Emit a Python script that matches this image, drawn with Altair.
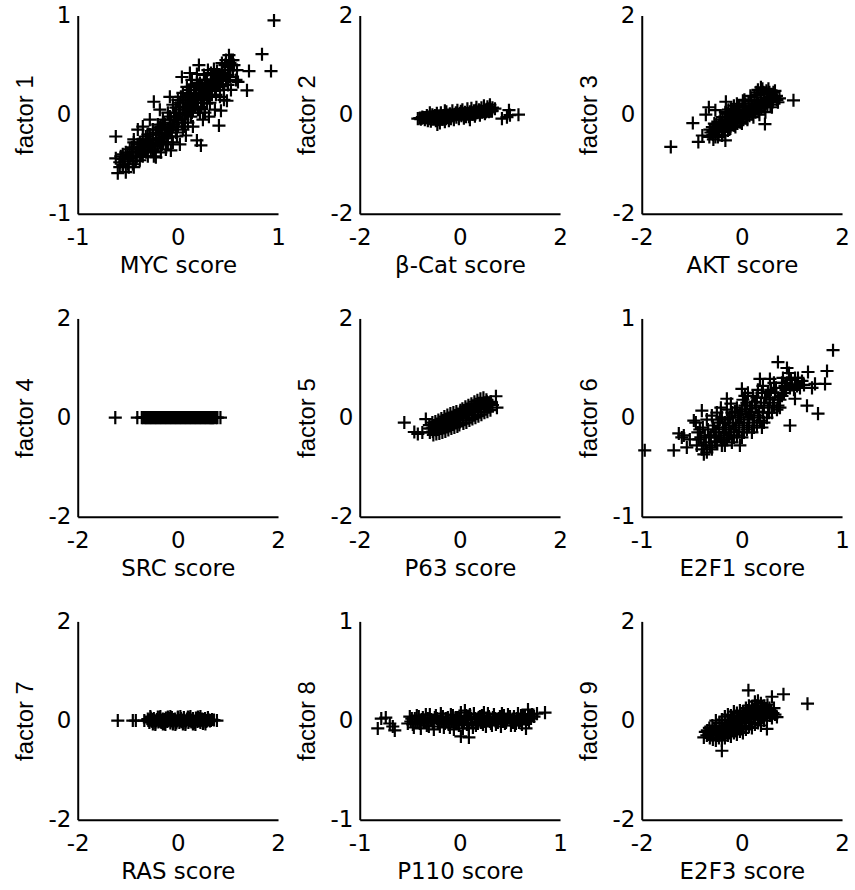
import altair as alt
import pandas as pd

# ---------------- data ----------------
x_titles = ["MYC score", "β-Cat score", "AKT score",
            "SRC score", "P63 score", "E2F1 score",
            "RAS score", "P110 score", "E2F3 score"]
y_titles = ["factor 1", "factor 2", "factor 3",
            "factor 4", "factor 5", "factor 6",
            "factor 7", "factor 8", "factor 9"]
x_limits = [1, 2, 2, 2, 2, 1, 2, 1, 2]
y_limits = [1, 2, 2, 2, 2, 1, 2, 1, 2]

myc_factor1 = [
    (-0.62, -0.44), (-0.60, -0.59), (-0.55, -0.52), (-0.52, -0.58), (-0.58, -0.48),
    (-0.55, -0.40), (-0.50, -0.45), (-0.48, -0.35), (-0.45, -0.50), (-0.44, -0.53),
    (-0.42, -0.42), (-0.40, -0.30), (-0.38, -0.46), (-0.36, -0.38), (-0.35, -0.25),
    (-0.33, -0.33), (-0.30, -0.42), (-0.30, -0.20), (-0.28, -0.28), (-0.27, -0.36),
    (-0.25, -0.15), (-0.24, -0.42), (-0.22, -0.25), (-0.22, -0.43), (-0.20, -0.32),
    (-0.20, -0.10), (-0.18, -0.20), (-0.17, -0.38), (-0.15, -0.05), (-0.15, -0.28),
    (-0.13, -0.15), (-0.12, -0.35), (-0.10, -0.22), (-0.10, 0.02), (-0.08, -0.10),
    (-0.07, -0.36), (-0.05, -0.28), (-0.05, 0.10), (-0.03, -0.02), (-0.02, -0.18),
    (0.00, 0.15), (0.00, -0.08), (0.02, -0.30), (0.02, 0.05), (0.04, 0.38),
    (0.05, 0.22), (0.05, -0.15), (0.07, 0.00), (0.08, -0.21), (0.09, 0.28),
    (0.10, 0.10), (0.10, -0.08), (0.12, 0.20), (0.13, -0.02), (0.14, 0.35),
    (0.15, -0.12), (0.16, 0.12), (0.18, 0.25), (0.19, 0.41), (0.19, -0.26),
    (0.20, 0.05), (0.21, 0.50), (0.22, 0.32), (0.23, -0.31), (0.24, 0.18),
    (0.25, -0.05), (0.26, 0.40), (0.28, 0.28), (0.29, 0.11), (0.30, 0.45),
    (0.31, -0.02), (0.33, 0.35), (0.34, 0.20), (0.36, 0.46), (0.37, 0.05),
    (0.38, 0.28), (0.40, 0.38), (0.41, -0.11), (0.42, 0.18), (0.43, 0.04),
    (0.44, 0.45), (0.45, 0.30), (0.47, 0.50), (0.49, 0.14), (0.50, 0.40),
    (0.51, 0.60), (0.52, 0.52), (0.53, 0.25), (0.53, 0.55), (0.55, 0.45),
    (0.56, 0.50), (0.58, 0.35), (0.59, 0.45), (0.60, 0.33), (0.69, 0.245),
    (0.71, 0.44), (0.84, 0.61), (0.93, 0.44), (0.96, 0.95), (-0.24, 0.13),
    (-0.62, -0.22), (-0.44, -0.25), (-0.35, -0.12), (-0.28, -0.05), (-0.40, -0.15),
    (0.46, 0.15), (-0.08, 0.18), (0.12, 0.42), (-0.18, 0.05), (0.27, 0.02),
    (-0.55, -0.50), (-0.55, -0.45), (-0.50, -0.50), (-0.50, -0.40), (-0.46, -0.42),
    (-0.46, -0.33), (-0.42, -0.38), (-0.42, -0.47), (-0.38, -0.37), (-0.38, -0.28),
    (-0.35, -0.32), (-0.35, -0.42), (-0.32, -0.26), (-0.32, -0.38), (-0.28, -0.30),
    (-0.28, -0.20), (-0.25, -0.26), (-0.25, -0.35), (-0.22, -0.18), (-0.22, -0.30),
    (-0.19, -0.24), (-0.19, -0.13), (-0.16, -0.18), (-0.16, -0.30), (-0.13, -0.10),
    (-0.13, -0.22), (-0.10, -0.14), (-0.10, -0.28), (-0.07, -0.05), (-0.07, -0.18),
    (-0.04, -0.10), (-0.04, 0.02), (-0.01, -0.05), (-0.01, -0.22), (0.02, 0.00),
    (0.02, 0.12), (0.05, 0.08), (0.05, -0.05), (0.08, 0.02), (0.08, 0.15),
    (0.11, 0.05), (0.11, 0.25), (0.14, 0.15), (0.14, 0.02), (0.17, 0.08),
    (0.17, 0.20), (0.20, 0.15), (0.20, 0.30), (0.23, 0.22), (0.23, 0.08),
    (0.26, 0.25), (0.26, 0.15), (0.29, 0.20), (0.29, 0.35), (0.32, 0.28),
    (0.32, 0.12), (0.35, 0.30), (0.35, 0.40), (0.38, 0.35), (0.38, 0.20),
    (0.42, 0.30), (0.42, 0.40), (0.46, 0.40), (0.46, 0.25), (0.50, 0.48),
    (0.50, 0.30),
    (-0.58, -0.53), (-0.57, -0.42), (-0.53, -0.47), (-0.52, -0.38), (-0.49, -0.53),
    (-0.48, -0.44), (-0.45, -0.38), (-0.44, -0.28), (-0.41, -0.43), (-0.40, -0.35),
    (-0.37, -0.40), (-0.36, -0.30), (-0.33, -0.37), (-0.32, -0.22), (-0.30, -0.33),
    (-0.29, -0.25), (-0.26, -0.30), (-0.25, -0.20), (-0.23, -0.37), (-0.21, -0.24),
    (-0.20, -0.15), (-0.18, -0.28), (-0.17, -0.12), (-0.14, -0.24), (-0.14, -0.08),
    (-0.11, -0.18), (-0.11, -0.30), (-0.08, -0.15), (-0.08, -0.02), (-0.06, -0.22),
    (-0.05, -0.12), (-0.02, -0.02), (-0.02, 0.07), (0.00, -0.12), (0.01, 0.02),
    (0.03, 0.18), (0.04, -0.08), (0.06, 0.12), (0.07, -0.12), (0.09, 0.05),
    (0.10, 0.18), (0.12, 0.10), (0.13, 0.28), (0.15, 0.05), (0.16, 0.22),
    (0.18, 0.12), (0.19, 0.32), (0.21, 0.20), (0.22, 0.02), (0.24, 0.28),
    (0.25, 0.12), (0.27, 0.35), (0.28, 0.22), (0.30, 0.30), (0.31, 0.18),
    (0.33, 0.42), (0.34, 0.28), (0.36, 0.35), (0.37, 0.24), (0.39, 0.44),
    (0.40, 0.30), (0.43, 0.36), (0.44, 0.52), (0.47, 0.42), (0.48, 0.34),
    (0.51, 0.45), (0.52, 0.38), (0.54, 0.50), (0.55, 0.55), (0.48, 0.55),
]

bcat_factor2 = [
    (-0.84, -0.08), (-0.75, -0.05), (-0.70, -0.10), (-0.66, -0.02), (-0.62, -0.08),
    (-0.58, -0.13), (-0.55, 0.00), (-0.52, -0.06), (-0.48, -0.12), (-0.46, 0.03),
    (-0.42, -0.05), (-0.40, -0.17), (-0.38, 0.04), (-0.35, -0.09), (-0.32, -0.02),
    (-0.30, -0.14), (-0.27, 0.06), (-0.25, -0.06), (-0.22, -0.12), (-0.20, 0.02),
    (-0.17, -0.04), (-0.15, 0.08), (-0.12, -0.10), (-0.10, 0.01), (-0.07, -0.05),
    (-0.05, 0.09), (-0.02, -0.08), (0.00, 0.03), (0.03, -0.02), (0.05, 0.10),
    (0.08, -0.07), (0.10, 0.05), (0.12, 0.00), (0.15, 0.12), (0.18, -0.04),
    (0.20, 0.06), (0.23, 0.13), (0.25, 0.01), (0.28, 0.08), (0.30, -0.03),
    (0.33, 0.15), (0.35, 0.04), (0.38, 0.10), (0.40, -0.01), (0.43, 0.14),
    (0.45, 0.06), (0.48, 0.18), (0.50, 0.02), (0.53, 0.11), (0.55, 0.16),
    (0.58, 0.06), (0.60, 0.20), (0.62, 0.10), (0.65, 0.14), (0.70, 0.12),
    (0.84, -0.08), (0.94, -0.05), (0.98, 0.09), (1.00, -0.01), (1.17, 0.00),
    (-0.30, 0.08), (-0.60, 0.04), (0.20, -0.10), (-0.45, -0.20),
    (-0.78, -0.09), (-0.68, -0.06), (-0.64, -0.12), (-0.56, -0.05), (-0.50, -0.02),
    (-0.44, -0.10), (-0.36, -0.03), (-0.28, -0.08), (-0.18, -0.08), (-0.08, 0.04),
    (0.02, 0.07), (0.12, -0.04), (0.22, 0.03), (0.32, 0.09), (0.42, 0.08),
    (0.52, 0.06), (0.57, 0.12), (0.64, 0.07),
    (-0.80, -0.07), (-0.76, -0.07), (-0.72, -0.06), (-0.68, -0.06), (-0.64, -0.05),
    (-0.60, -0.05), (-0.56, -0.05), (-0.52, -0.04), (-0.48, -0.04), (-0.44, -0.03),
    (-0.40, -0.03), (-0.36, -0.03), (-0.32, -0.02), (-0.28, -0.02), (-0.24, -0.01),
    (-0.20, -0.01), (-0.16, -0.01), (-0.12, 0.00), (-0.08, 0.00), (-0.04, 0.01),
    (0.00, 0.01), (0.04, 0.01), (0.08, 0.02), (0.12, 0.02), (0.16, 0.03),
    (0.20, 0.03), (0.24, 0.03), (0.28, 0.04), (0.32, 0.04), (0.36, 0.05),
    (0.40, 0.05), (0.44, 0.05), (0.48, 0.06), (0.52, 0.06), (0.56, 0.07),
    (0.60, 0.07), (0.64, 0.08),
]

akt_factor3 = [
    (-1.42, -0.65), (-0.98, -0.17), (-0.87, -0.55), (-0.79, -0.42), (-0.66, 0.15),
    (-0.72, 0.00), (-0.53, 0.09), (-0.32, 0.26), (-0.33, -0.52), (1.03, 0.29),
    (0.46, -0.19),
    (-0.65, -0.45), (-0.64, -0.30), (-0.58, -0.40), (-0.59, -0.25), (-0.57, -0.50),
    (-0.52, -0.35), (-0.51, -0.20), (-0.53, -0.45), (-0.46, -0.28), (-0.47, -0.40),
    (-0.45, -0.15), (-0.40, -0.30), (-0.41, -0.18), (-0.39, -0.05), (-0.40, -0.42),
    (-0.34, -0.25), (-0.35, -0.12), (-0.33, 0.05), (-0.34, -0.35), (-0.28, -0.20),
    (-0.29, -0.05), (-0.27, 0.10), (-0.28, -0.32), (-0.22, -0.15), (-0.21, 0.00),
    (-0.23, -0.28), (-0.22, 0.12), (-0.16, -0.10), (-0.17, 0.05), (-0.15, -0.22),
    (-0.16, 0.18), (-0.10, -0.05), (-0.11, 0.10), (-0.09, -0.18), (-0.10, 0.22),
    (-0.04, 0.00), (-0.05, 0.15), (-0.03, -0.15), (0.02, 0.03), (0.01, 0.18),
    (0.03, -0.10), (0.02, 0.28), (0.08, 0.08), (0.07, 0.22), (0.09, -0.06),
    (0.14, 0.12), (0.13, 0.26), (0.15, -0.02), (0.20, 0.15), (0.19, 0.30),
    (0.21, 0.02), (0.26, 0.18), (0.25, 0.35), (0.27, 0.05), (0.32, 0.22),
    (0.31, 0.40), (0.33, 0.08), (0.32, 0.50), (0.38, 0.25), (0.37, 0.42),
    (0.39, 0.12), (0.38, 0.55), (0.44, 0.28), (0.43, 0.45), (0.45, 0.15),
    (0.50, 0.30), (0.49, 0.48), (0.51, 0.18), (0.56, 0.32), (0.55, 0.45),
    (0.57, 0.20), (0.62, 0.35), (0.61, 0.25), (0.63, 0.45), (0.70, 0.30),
    (0.69, 0.38), (0.75, 0.33),
    (-0.62, -0.36), (-0.58, -0.33), (-0.54, -0.30), (-0.50, -0.28), (-0.46, -0.26),
    (-0.42, -0.24), (-0.38, -0.22), (-0.34, -0.19), (-0.30, -0.17), (-0.26, -0.14),
    (-0.22, -0.12), (-0.18, -0.10), (-0.14, -0.07), (-0.10, -0.05), (-0.06, -0.03),
    (-0.02, -0.01), (0.02, 0.01), (0.06, 0.04), (0.10, 0.06), (0.14, 0.08),
    (0.18, 0.10), (0.22, 0.12), (0.26, 0.14), (0.30, 0.17), (0.34, 0.19),
    (0.38, 0.21), (0.42, 0.23), (0.46, 0.26), (0.50, 0.28), (0.54, 0.30),
    (0.58, 0.32), (0.62, 0.34), (0.66, 0.36),
    (-0.55, -0.18), (-0.48, -0.45), (-0.43, -0.10), (-0.37, -0.35), (-0.30, 0.02),
    (-0.25, -0.30), (-0.19, 0.08), (-0.13, -0.25), (-0.07, 0.18), (0.00, -0.18),
    (0.05, 0.30), (0.11, -0.10), (0.17, 0.38), (0.23, -0.05), (0.29, 0.45),
    (0.35, 0.00), (0.41, 0.52), (0.47, 0.05), (0.53, 0.52), (0.60, 0.15),
    (0.66, 0.48), (0.72, 0.25),
]

src_factor4 = [
    (-1.25, 0.0), (-0.81, 0.0), (-0.72, 0.0), (-0.66, 0.0), (-0.61, 0.0),
    (-0.56, 0.0), (-0.51, 0.0), (-0.46, 0.0), (-0.41, 0.0), (-0.36, 0.0),
    (-0.31, 0.0), (-0.26, 0.0), (-0.21, 0.0), (-0.16, 0.0), (-0.11, 0.0),
    (-0.06, 0.0), (-0.01, 0.0), (0.04, 0.0), (0.09, 0.0), (0.14, 0.0),
    (0.19, 0.0), (0.24, 0.0), (0.29, 0.0), (0.34, 0.0), (0.39, 0.0),
    (0.44, 0.0), (0.49, 0.0), (0.54, 0.0), (0.59, 0.0), (0.64, 0.0),
    (0.68, 0.0), (0.72, 0.0), (0.85, 0.0),
    (-0.69, 0.0), (-0.635, 0.0), (-0.585, 0.0), (-0.535, 0.0), (-0.485, 0.0),
    (-0.435, 0.0), (-0.385, 0.0), (-0.335, 0.0), (-0.285, 0.0), (-0.235, 0.0),
    (-0.185, 0.0), (-0.135, 0.0), (-0.085, 0.0), (-0.035, 0.0), (0.015, 0.0),
    (0.065, 0.0), (0.115, 0.0), (0.165, 0.0), (0.215, 0.0), (0.265, 0.0),
    (0.315, 0.0), (0.365, 0.0), (0.415, 0.0), (0.465, 0.0), (0.515, 0.0),
    (0.565, 0.0), (0.615, 0.0), (0.66, 0.0), (0.70, 0.0), (0.76, 0.0),
    (0.79, 0.0),
]

p63_factor5 = [
    (-1.11, -0.10), (-0.91, -0.29), (-0.84, -0.33), (-0.68, -0.03), (0.72, 0.43),
    (0.74, 0.20), (-0.75, -0.30),
    (-0.60, -0.30), (-0.61, -0.15), (-0.54, -0.28), (-0.55, -0.10), (-0.53, -0.35),
    (-0.48, -0.25), (-0.49, -0.08), (-0.47, -0.33), (-0.42, -0.22), (-0.43, -0.05),
    (-0.41, -0.32), (-0.36, -0.20), (-0.37, -0.02), (-0.35, -0.30), (-0.30, -0.18),
    (-0.31, 0.02), (-0.29, -0.28), (-0.24, -0.15), (-0.25, 0.05), (-0.23, -0.25),
    (-0.18, -0.12), (-0.19, 0.08), (-0.17, -0.22), (-0.12, -0.08), (-0.13, 0.10),
    (-0.11, -0.20), (-0.06, -0.05), (-0.07, 0.12), (-0.05, -0.18), (0.00, -0.02),
    (0.01, 0.15), (-0.01, -0.15), (0.06, 0.02), (0.05, 0.18), (0.07, -0.12),
    (0.12, 0.05), (0.11, 0.22), (0.13, -0.10), (0.18, 0.08), (0.17, 0.25),
    (0.19, -0.06), (0.24, 0.12), (0.23, 0.28), (0.25, -0.03), (0.30, 0.15),
    (0.29, 0.32), (0.31, 0.00), (0.36, 0.18), (0.35, 0.35), (0.37, 0.03),
    (0.42, 0.20), (0.41, 0.38), (0.43, 0.06), (0.48, 0.22), (0.47, 0.40),
    (0.49, 0.10), (0.54, 0.25), (0.53, 0.36), (0.55, 0.12), (0.60, 0.28),
    (0.61, 0.15), (0.65, 0.25),
    (-0.62, -0.22), (-0.58, -0.22), (-0.54, -0.20), (-0.50, -0.18), (-0.46, -0.16),
    (-0.42, -0.14), (-0.38, -0.12), (-0.34, -0.10), (-0.30, -0.08), (-0.26, -0.06),
    (-0.22, -0.04), (-0.18, -0.02), (-0.14, 0.00), (-0.10, 0.02), (-0.06, 0.00),
    (-0.02, 0.03), (0.02, 0.05), (0.06, 0.08), (0.10, 0.10), (0.14, 0.12),
    (0.18, 0.14), (0.22, 0.16), (0.26, 0.18), (0.30, 0.20), (0.34, 0.22),
    (0.38, 0.24), (0.42, 0.26), (0.46, 0.28), (0.50, 0.30), (0.54, 0.32),
    (0.58, 0.30), (0.62, 0.32),
]

e2f1_factor6 = [
    (-0.97, -0.33), (-0.68, -0.33), (-0.63, -0.16), (-0.55, -0.30), (-0.48, -0.03),
    (-0.40, 0.07), (-0.38, -0.37), (-0.30, -0.32), (-0.17, -0.28), (-0.15, 0.19),
    (-0.02, -0.28), (0.00, 0.29), (0.18, 0.39), (0.28, 0.39), (0.36, 0.56),
    (0.45, 0.50), (0.48, -0.08), (0.38, 0.10), (0.53, 0.19), (0.65, 0.12),
    (0.76, 0.04), (0.73, 0.34), (0.83, 0.34), (0.85, 0.47), (0.91, 0.68),
    (0.66, 0.46), (0.60, 0.37), (0.40, 0.35), (0.33, 0.25), (-0.58, -0.18),
    (-0.45, -0.28), (-0.44, -0.15), (-0.46, -0.05),
    (-0.40, -0.32), (-0.41, -0.20), (-0.39, -0.10),
    (-0.35, -0.35), (-0.36, -0.25), (-0.34, -0.12), (-0.35, -0.02),
    (-0.30, -0.30), (-0.31, -0.18), (-0.29, -0.08), (-0.30, 0.02),
    (-0.25, -0.25), (-0.26, -0.15), (-0.24, -0.05), (-0.25, 0.05),
    (-0.20, -0.28), (-0.21, -0.20), (-0.19, -0.10), (-0.20, 0.00), (-0.21, 0.10),
    (-0.15, -0.22), (-0.16, -0.12), (-0.14, -0.02), (-0.15, 0.08),
    (-0.10, -0.25), (-0.11, -0.15), (-0.09, -0.05), (-0.10, 0.05), (-0.11, 0.14),
    (-0.05, -0.18), (-0.06, -0.08), (-0.04, 0.02), (-0.05, 0.10),
    (0.00, -0.20), (0.01, -0.10), (-0.01, 0.00), (0.00, 0.08), (0.01, 0.18),
    (0.05, -0.12), (0.06, -0.02), (0.04, 0.06), (0.05, 0.15), (0.06, 0.25),
    (0.10, -0.15), (0.11, -0.05), (0.09, 0.05), (0.10, 0.12), (0.11, 0.22),
    (0.15, -0.08), (0.16, 0.02), (0.14, 0.10), (0.15, 0.20),
    (0.20, -0.10), (0.21, 0.05), (0.19, 0.15), (0.20, 0.25), (0.21, 0.32),
    (0.25, 0.00), (0.26, 0.10), (0.24, 0.20),
    (0.30, 0.05), (0.31, 0.15), (0.29, 0.28),
    (0.35, 0.08), (0.36, 0.20), (0.34, 0.30),
    (0.42, 0.25), (0.43, 0.32), (0.41, 0.40),
    (0.48, 0.30), (0.49, 0.38), (0.47, 0.45),
    (0.55, 0.32), (0.56, 0.40),
    (-0.43, -0.22), (-0.38, -0.28), (-0.33, -0.20), (-0.28, -0.12), (-0.27, -0.24),
    (-0.23, -0.18), (-0.22, -0.02), (-0.18, -0.15), (-0.17, -0.05), (-0.13, -0.18),
    (-0.12, 0.00), (-0.08, -0.12), (-0.07, 0.06), (-0.03, -0.14), (-0.02, 0.04),
    (0.02, -0.05), (0.03, 0.12), (0.07, -0.08), (0.08, 0.09), (0.12, 0.00),
    (0.13, 0.16), (0.17, 0.06), (0.18, -0.03), (0.22, 0.12), (0.23, 0.20),
    (0.27, 0.05), (0.28, 0.18), (0.32, 0.12), (0.38, 0.18), (0.45, 0.35),
    (0.52, 0.28), (0.58, 0.30), (0.62, 0.33), (0.70, 0.30), (-0.52, -0.22),
    (-0.60, -0.20),
    (-0.42, -0.12), (-0.37, -0.18), (-0.32, -0.28), (-0.27, -0.20), (-0.23, -0.10),
    (-0.18, -0.22), (-0.13, -0.08), (-0.08, -0.20), (-0.03, -0.06), (0.02, -0.15),
    (0.03, 0.22), (0.07, 0.03), (0.12, -0.10), (0.16, 0.28), (0.22, -0.05),
    (0.26, 0.26), (0.32, 0.35), (0.36, 0.12), (0.40, 0.22), (0.44, 0.28),
    (0.50, 0.33), (0.53, 0.40),
]

ras_factor7 = [
    (-1.20, 0.00), (-0.90, 0.00), (-0.84, 0.00), (-0.67, 0.00),
    (-0.60, 0.03), (-0.57, -0.04), (-0.54, 0.05), (-0.51, -0.02), (-0.48, 0.04),
    (-0.45, -0.05), (-0.42, 0.02), (-0.39, -0.03), (-0.36, 0.06), (-0.33, -0.04),
    (-0.30, 0.03), (-0.27, -0.06), (-0.24, 0.05), (-0.21, -0.02), (-0.18, 0.04),
    (-0.15, -0.05), (-0.12, 0.06), (-0.09, -0.03), (-0.06, 0.03), (-0.03, -0.05),
    (0.00, 0.05), (0.03, -0.04), (0.06, 0.04), (0.09, -0.03), (0.12, 0.06),
    (0.15, -0.05), (0.18, 0.03), (0.21, -0.04), (0.24, 0.05), (0.27, -0.03),
    (0.30, 0.04), (0.33, -0.05), (0.36, 0.05), (0.39, -0.02), (0.42, 0.04),
    (0.45, -0.04), (0.48, 0.03), (0.51, -0.03), (0.54, 0.04), (0.57, -0.02),
    (0.60, 0.03), (0.64, -0.01), (0.68, 0.02), (0.78, 0.00),
    (-0.59, 0.00), (-0.56, 0.01), (-0.53, -0.01), (-0.50, 0.02), (-0.47, 0.00),
    (-0.44, -0.01), (-0.41, 0.01), (-0.38, 0.00), (-0.35, -0.02), (-0.32, 0.01),
    (-0.29, 0.00), (-0.26, 0.02), (-0.23, -0.01), (-0.20, 0.00), (-0.17, 0.01),
    (-0.14, -0.01), (-0.11, 0.00), (-0.08, 0.02), (-0.05, 0.00), (-0.02, -0.01),
    (0.01, 0.01), (0.04, 0.00), (0.07, -0.02), (0.10, 0.01), (0.13, 0.00),
    (0.16, -0.01), (0.19, 0.02), (0.22, 0.00), (0.25, -0.01), (0.28, 0.01),
    (0.31, 0.00), (0.34, -0.02), (0.37, 0.01), (0.40, 0.00), (0.43, -0.01),
    (0.46, 0.01), (0.49, 0.00), (0.52, 0.02), (0.55, -0.01), (0.58, 0.00),
    (0.62, 0.01), (0.66, 0.00), (0.72, 0.01),
    (-0.55, 0.08), (-0.45, -0.08), (-0.35, 0.08), (-0.25, -0.08), (-0.15, 0.08),
    (-0.05, -0.08), (0.05, 0.08), (0.15, -0.08), (0.25, 0.08), (0.35, -0.08),
    (0.45, 0.08), (0.55, -0.07), (-0.50, -0.07), (-0.40, 0.07), (-0.30, -0.07),
    (-0.20, 0.07), (-0.10, -0.07), (0.00, 0.07), (0.10, -0.07), (0.20, 0.07),
    (0.30, -0.07), (0.40, 0.07), (0.50, -0.06), (0.60, 0.06),
]

p110_factor8 = [
    (-0.82, -0.08), (-0.785, 0.02), (-0.74, 0.03), (-0.70, -0.03), (-0.65, -0.10),
    (-0.67, -0.06), (-0.52, -0.03), (-0.48, 0.02), (-0.46, -0.07), (-0.44, -0.01),
    (-0.41, 0.04), (-0.39, -0.08), (-0.36, -0.02), (-0.34, 0.06), (-0.31, -0.06),
    (-0.29, 0.01), (-0.26, -0.09), (-0.24, 0.05), (-0.21, -0.03), (-0.19, 0.07),
    (-0.16, -0.07), (-0.14, 0.02), (-0.11, -0.04), (-0.09, 0.06), (-0.06, -0.09),
    (-0.04, 0.03), (-0.01, -0.05), (0.01, 0.08), (0.01, -0.16), (0.04, -0.02),
    (0.06, 0.05), (0.09, -0.17), (0.09, -0.08), (0.11, 0.02), (0.14, 0.07),
    (0.16, -0.05), (0.19, 0.03), (0.21, -0.02), (0.24, 0.08), (0.26, -0.06),
    (0.29, 0.04), (0.31, -0.03), (0.34, 0.06), (0.36, -0.04), (0.39, 0.02),
    (0.41, -0.06), (0.44, 0.05), (0.46, -0.02), (0.49, 0.03), (0.51, -0.05),
    (0.54, 0.04), (0.56, -0.03), (0.59, -0.02), (0.61, 0.05), (0.64, 0.02),
    (0.66, -0.08), (0.68, 0.11), (0.70, 0.04), (0.77, 0.07), (0.85, 0.08),
    (-0.50, 0.04), (-0.47, -0.04), (-0.43, 0.05), (-0.40, -0.03), (-0.37, 0.03),
    (-0.33, -0.05), (-0.30, 0.06), (-0.27, -0.02), (-0.23, 0.02), (-0.20, -0.06),
    (-0.17, 0.04), (-0.13, -0.01), (-0.10, -0.07), (-0.07, 0.05), (-0.03, -0.03),
    (0.00, 0.02), (0.03, -0.08), (0.05, 0.10), (0.07, -0.04), (0.10, 0.06),
    (0.13, -0.07), (0.15, 0.02), (0.18, -0.03), (0.22, 0.05), (0.25, -0.01),
    (0.28, 0.07), (0.32, -0.05), (0.35, 0.02), (0.38, -0.02), (0.42, 0.07),
    (0.45, -0.03), (0.48, 0.06), (0.52, 0.00), (0.55, -0.05), (0.58, 0.07),
    (0.62, -0.04), (0.65, 0.05), (0.69, -0.01), (0.72, 0.06),
    (-0.49, -0.01), (-0.45, 0.02), (-0.42, -0.02), (-0.38, 0.01), (-0.35, -0.01),
    (-0.32, 0.02), (-0.28, 0.00), (-0.25, 0.03), (-0.22, -0.02), (-0.18, 0.01),
    (-0.15, -0.03), (-0.12, 0.03), (-0.08, 0.00), (-0.05, -0.02), (-0.02, 0.03),
    (0.02, -0.01), (0.05, 0.01), (0.08, 0.03), (0.12, -0.02), (0.17, 0.01),
    (0.20, 0.04), (0.23, -0.04), (0.27, 0.02), (0.30, -0.01), (0.33, 0.03),
    (0.37, 0.00), (0.40, 0.04), (0.43, -0.01), (0.47, 0.01), (0.50, 0.04),
    (0.53, -0.02), (0.57, 0.02), (0.60, 0.00), (0.63, 0.04), (0.67, 0.01),
    (0.71, 0.02), (0.74, 0.04),
]

e2f3_factor9 = [
    (0.13, 0.61), (0.83, 0.53), (0.60, 0.48), (1.31, 0.34), (-0.40, -0.61),
    (-0.73, -0.23), (-0.76, -0.34), (0.50, -0.17), (0.70, 0.07),
    (-0.70, -0.30), (-0.69, -0.20), (-0.64, -0.35), (-0.65, -0.15), (-0.63, -0.25),
    (-0.58, -0.38), (-0.59, -0.10), (-0.57, -0.25), (-0.52, -0.40), (-0.53, -0.28),
    (-0.51, -0.12), (-0.52, 0.00), (-0.46, -0.35), (-0.47, -0.22), (-0.45, -0.05),
    (-0.40, -0.40), (-0.41, -0.28), (-0.39, -0.15), (-0.40, 0.02), (-0.34, -0.35),
    (-0.35, -0.20), (-0.33, -0.05), (-0.34, 0.08), (-0.28, -0.30), (-0.29, -0.15),
    (-0.27, 0.00), (-0.28, 0.12), (-0.22, -0.32), (-0.23, -0.18), (-0.21, -0.05),
    (-0.22, 0.10), (-0.16, -0.25), (-0.17, -0.10), (-0.15, 0.05), (-0.16, 0.18),
    (-0.10, -0.28), (-0.11, -0.12), (-0.09, 0.02), (-0.10, 0.15), (-0.04, -0.22),
    (-0.05, -0.05), (-0.03, 0.10), (-0.04, 0.20), (0.02, -0.25), (0.01, -0.10),
    (0.03, 0.05), (0.02, 0.18), (0.08, -0.18), (0.07, 0.00), (0.09, 0.12),
    (0.08, 0.25), (0.14, -0.12), (0.13, 0.05), (0.15, 0.18), (0.14, 0.30),
    (0.20, -0.15), (0.19, 0.02), (0.21, 0.15), (0.20, 0.28), (0.26, -0.08),
    (0.25, 0.08), (0.27, 0.22), (0.26, 0.38), (0.32, -0.05), (0.31, 0.12),
    (0.33, 0.25), (0.32, 0.40), (0.38, -0.10), (0.37, 0.05), (0.39, 0.20),
    (0.38, 0.35), (0.44, 0.00), (0.43, 0.15), (0.45, 0.30), (0.50, 0.05),
    (0.49, 0.20), (0.51, 0.32), (0.56, 0.10), (0.55, 0.25), (0.62, 0.15),
    (-0.66, -0.28), (-0.62, -0.22), (-0.58, -0.30), (-0.55, -0.18), (-0.50, -0.22),
    (-0.48, -0.30), (-0.44, -0.15), (-0.42, -0.22), (-0.38, -0.22), (-0.36, -0.28),
    (-0.32, -0.12), (-0.30, -0.22), (-0.26, -0.08), (-0.24, -0.25), (-0.20, -0.10),
    (-0.18, 0.00), (-0.14, -0.18), (-0.12, -0.04), (-0.08, -0.10), (-0.06, 0.08),
    (-0.02, 0.00), (0.00, -0.15), (0.04, 0.12), (0.06, -0.05), (0.10, 0.06),
    (0.12, 0.20), (0.16, -0.02), (0.18, 0.10), (0.22, 0.22), (0.24, 0.04),
    (0.28, 0.15), (0.30, 0.30), (0.34, 0.08), (0.36, 0.18), (0.40, 0.28),
    (0.42, 0.08), (0.46, 0.22), (0.48, 0.12), (0.53, 0.18), (0.58, 0.20),
    (0.60, 0.05), (0.64, 0.25), (0.66, 0.12),
]

panel_points = [myc_factor1, bcat_factor2, akt_factor3,
                src_factor4, p63_factor5, e2f1_factor6,
                ras_factor7, p110_factor8, e2f3_factor9]

# ---------------- chart ----------------
H_FONT = "DejaVu Sans"      # horizontal texts (ticks, x titles)
V_FONT = "Liberation Sans"  # vertical y titles
W, H = 201, 199
PLUS = "M-1,0H1M0,-1V1"

panels = []
for pts, xt, yt, xl, yl in zip(panel_points, x_titles, y_titles, x_limits, y_limits):
    df = pd.DataFrame(pts, columns=["x", "y"])
    p = alt.Chart(df).mark_point(
        shape=PLUS, size=172, filled=False, stroke="black",
        strokeWidth=2.2, opacity=1,
    ).encode(
        x=alt.X("x:Q",
                scale=alt.Scale(domain=[-xl, xl], nice=False, zero=False),
                axis=alt.Axis(values=[-xl, 0, xl], title=xt,
                              labelExpr="'' + datum.value",
                              labelFont=H_FONT, labelFontSize=23,
                              titleFont=H_FONT, titleFontSize=23,
                              labelPadding=13, labelFlush=False,
                              titleBaseline="alphabetic", titleY=59,
                              titleX=W / 2, titleAlign="center")),
        y=alt.Y("y:Q",
                scale=alt.Scale(domain=[-yl, yl], nice=False, zero=False),
                axis=alt.Axis(values=[-yl, 0, yl], title=yt,
                              labelExpr="'' + datum.value",
                              labelFont=H_FONT, labelFontSize=23,
                              titleFont=V_FONT, titleFontSize=24,
                              labelPadding=7, labelFlush=False,
                              titleAngle=270, titleBaseline="alphabetic",
                              titleX=-45, titleY=H / 2, titleAlign="center")),
    ).properties(width=W, height=H)
    panels.append(p)

chart = alt.concat(*panels, columns=3, spacing={"row": 105, "column": 82},
                   bounds="flush").properties(
    padding={"left": 14, "top": 3, "right": 5, "bottom": 5},
    background="white",
).configure_view(stroke=None).configure_axis(
    domainColor="black", domainWidth=2, ticks=False, grid=False,
    labelColor="black", titleColor="black", titleFontWeight="normal",
)

chart.save("out.html", embed_options={"renderer": "svg", "actions": False})
